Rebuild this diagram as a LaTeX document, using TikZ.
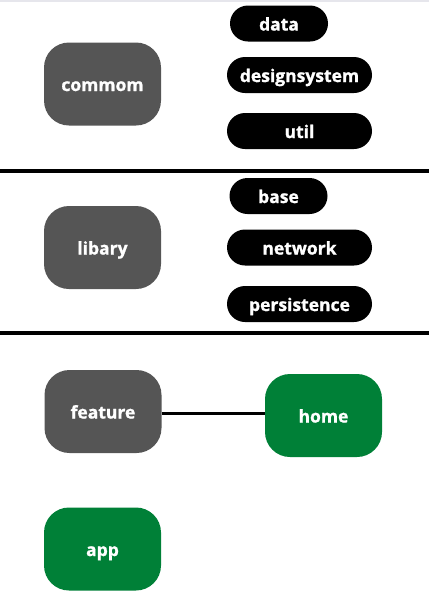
\documentclass[tikz,border=0pt]{standalone}
\usepackage{fontspec}
\setmainfont{Open Sans}[BoldFeatures={FakeBold=1.2}]
\definecolor{layergray}{HTML}{555555}
\definecolor{appgreen}{HTML}{008037}
\definecolor{edgegray}{HTML}{E6E6EC}
\tikzset{
    line cap=butt,line join=round,
    layer box/.style={fill=layergray, text=white, font=\bfseries\fontsize{17.5}{20}\selectfont,
        rounded corners=25pt, minimum width=117pt, minimum height=83pt, inner sep=0pt,
        text height=14pt, text depth=0pt},
    app box/.style={layer box, fill=appgreen},
    module pill/.style={fill=black, text=white, font=\bfseries\fontsize{17.5}{20}\selectfont,
        rounded corners=18pt, minimum height=36pt, inner sep=0pt,
        text height=14pt, text depth=0pt},
    short pill/.style={module pill, minimum width=98pt},
    long pill/.style={module pill, minimum width=145pt},
    separator/.style={line width=4pt, black},
}
\begin{document}
\begin{tikzpicture}[x=1pt,y=-1pt]
    \useasboundingbox (0,0) rectangle (429,606);
    \fill[edgegray] (0,0) rectangle (429,1.5);

    % commom layer
    \node[layer box] (commom) at (102.5,84) {commom};
    \node[short pill] (data) at (279,23.5) {data};
    \node[long pill] (designsystem) at (299.5,75) {designsystem};
    \node[long pill] (util) at (299.5,131) {util};

    \draw[separator] (0,171) -- (429,171);

    % libary layer
    \node[layer box] (libary) at (102.5,247.5) {libary};
    \node[short pill] (base) at (278.5,196) {base};
    \node[long pill] (network) at (299.5,247.5) {network};
    \node[long pill] (persistence) at (299.5,304) {persistence};

    \draw[separator] (0,333) -- (429,333);

    % feature layer
    \node[layer box] (feature) at (103,411.5) {feature};
    \node[app box] (home) at (323.5,415.5) {home};
    \draw[line width=3pt] (feature.east |- 0,413) -- (home.west |- 0,413);

    \node[app box] (app) at (102.5,549) {app};
\end{tikzpicture}
\end{document}
